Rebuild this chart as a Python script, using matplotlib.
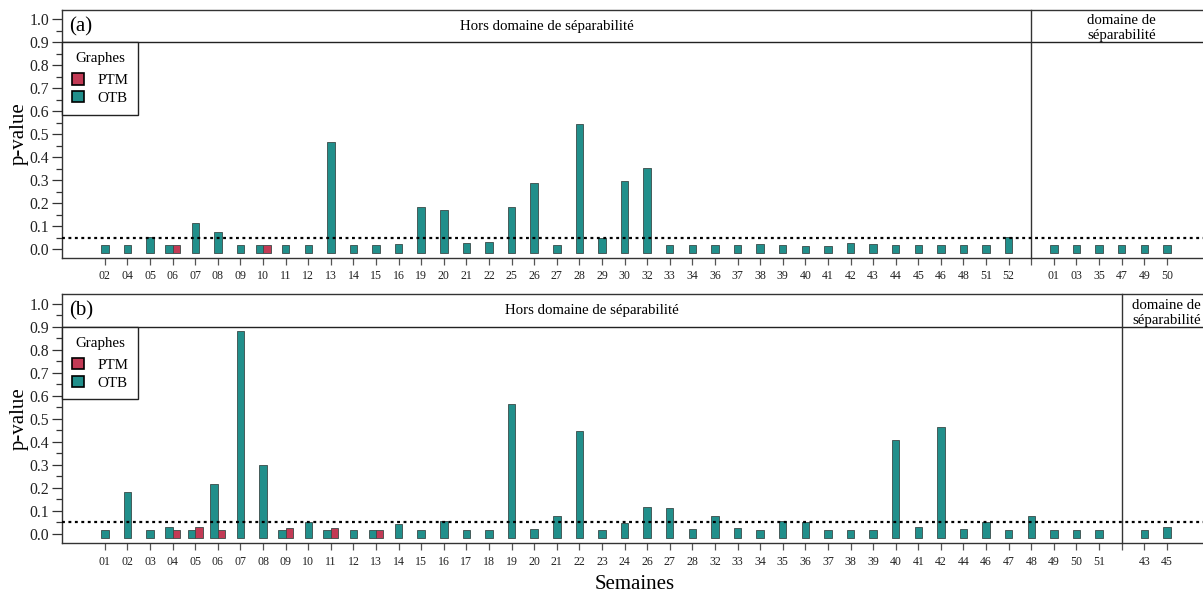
import numpy as np
import matplotlib
matplotlib.use('Agg')
import matplotlib.pyplot as plt
from matplotlib.patches import Patch

plt.rcParams['font.family'] = ['Liberation Serif', 'DejaVu Serif']

nan = np.nan

# ---- panel (a) ----
weeks_a = ['02', '04', '05', '06', '07', '08', '09', '10', '11', '12', '13', '14', '15', '16',
           '19', '20', '21', '22', '25', '26', '27', '28', '29', '30', '32', '33', '34', '36',
           '37', '38', '39', '40', '41', '42', '43', '44', '45', '46', '48', '51', '52']
otb_a = [0.017, 0.017, 0.054, 0.017, 0.113, 0.075, 0.017, 0.017, 0.017, 0.017, 0.467, 0.017,
         0.018, 0.022, 0.184, 0.171, 0.029, 0.032, 0.184, 0.287, 0.019, 0.545, 0.050, 0.297,
         0.354, 0.019, 0.019, 0.019, 0.019, 0.023, 0.019, 0.016, 0.016, 0.026, 0.023, 0.017,
         0.017, 0.017, 0.017, 0.017, 0.052]
ptm_a = [nan, nan, nan, 0.017, nan, nan, nan, 0.017] + [nan] * 33
sep_weeks_a = ['01', '03', '35', '47', '49', '50']
sep_otb_a = [0.017, 0.017, 0.017, 0.017, 0.017, 0.017]
sep_ptm_a = [nan] * 6

# ---- panel (b) ----
weeks_b = ['01', '02', '03', '04', '05', '06', '07', '08', '09', '10', '11', '12', '13', '14',
           '15', '16', '17', '18', '19', '20', '21', '22', '23', '24', '26', '27', '28', '32',
           '33', '34', '35', '36', '37', '38', '39', '40', '41', '42', '44', '46', '47', '48',
           '49', '50', '51']
otb_b = [0.016, 0.181, 0.016, 0.030, 0.016, 0.215, 0.881, 0.298, 0.017, 0.051, 0.016, 0.016,
         0.016, 0.041, 0.017, 0.054, 0.016, 0.016, 0.566, 0.020, 0.077, 0.448, 0.016, 0.048,
         0.115, 0.110, 0.020, 0.077, 0.025, 0.016, 0.054, 0.049, 0.016, 0.016, 0.016, 0.408,
         0.029, 0.464, 0.020, 0.049, 0.016, 0.077, 0.016, 0.016, 0.016]
ptm_b = [nan, nan, nan, 0.016, 0.028, 0.016, nan, nan, 0.025, nan, 0.026, nan, 0.016] + [nan] * 32
sep_weeks_b = ['43', '45']
sep_otb_b = [0.016, 0.029]
sep_ptm_b = [nan, nan]

teal = '#218f8b'
red = '#c23a55'
base = -0.017
bw = 0.33
threshold = 0.05


def draw_panel(ax, tag, weeks, otb, ptm, sweeks, sotb, sptm, ylim):
    n = len(weeks)
    div = n
    labels = list(weeks) + list(sweeks)
    xs = list(range(n)) + [n + 1 + i for i in range(len(sweeks))]
    ov = list(otb) + list(sotb)
    pv = list(ptm) + list(sptm)
    for x, o, p in zip(xs, ov, pv):
        if np.isnan(p):
            ax.bar(x, o - base, bw, bottom=base, color=teal, edgecolor='#3a4a48', linewidth=0.6)
        else:
            ax.bar(x - bw / 2, o - base, bw, bottom=base, color=teal, edgecolor='#3a4a48', linewidth=0.6)
            ax.bar(x + bw / 2, p - base, bw, bottom=base, color=red, edgecolor='#3a4a48', linewidth=0.6)

    ax.axhline(threshold, color='black', linestyle=(0, (1.3, 1.6)), linewidth=1.6, zorder=3)
    ax.axhline(0.9, color='#222222', linewidth=1.0)
    ax.axvline(div, color='#333333', linewidth=1.0, clip_on=False)

    x0, x1 = -1.9, 49.0
    ax.set_xlim(x0, x1)
    ax.set_ylim(*ylim)
    ax.set_xticks(xs + [div])
    ax.set_xticklabels(labels + [''], fontsize=8.6, color='#222222')
    ax.set_yticks(np.arange(0, 1.01, 0.1))
    ax.set_yticklabels([f'{v:.1f}' for v in np.arange(0, 1.01, 0.1)], fontsize=11.3, color='#222222')
    ax.set_yticks(np.arange(0.05, 1.0, 0.1), minor=True)
    ax.tick_params(axis='y', which='major', length=7, width=0.9, color='#333333', pad=2)
    ax.tick_params(axis='y', which='minor', length=4, width=0.9, color='#333333')
    ax.tick_params(axis='x', length=5, width=0.9, color='#555555', pad=4)
    for s in ['left', 'bottom', 'top']:
        ax.spines[s].set_linewidth(1.0)
        ax.spines[s].set_color('#333333')
    ax.spines['right'].set_visible(False)

    ax.text(-1.6, 0.968, tag, fontsize=15, va='center', ha='left')
    ax.text((x0 + div) / 2, 0.97, 'Hors domaine de séparabilité', fontsize=10.7,
            ha='center', va='center')
    ax.text((div + x1) / 2, 0.962, 'domaine de\nséparabilité', fontsize=10.7,
            ha='center', va='center', linespacing=1.2)
    ax.set_ylabel('p-value', fontsize=15)
    ax.yaxis.set_label_coords(-0.029, 0.5)

    handles = [Patch(facecolor=red, edgecolor='black', linewidth=1.2, label='PTM'),
               Patch(facecolor=teal, edgecolor='black', linewidth=1.2, label='OTB')]
    yfrac = (0.9 - ylim[0]) / (ylim[1] - ylim[0])
    leg = ax.legend(handles=handles, title='Graphes', loc='upper left',
                    bbox_to_anchor=(0, yfrac), fontsize=10.8, title_fontsize=10.8,
                    fancybox=False, edgecolor='#222222', framealpha=1,
                    handlelength=0.8, handleheight=0.8, borderpad=0.65,
                    labelspacing=0.25, handletextpad=0.9, borderaxespad=0)
    leg.get_frame().set_linewidth(1.0)
    leg._legend_box.sep = 6


fig = plt.figure(figsize=(12.03, 5.93), dpi=100)
ax_a = fig.add_axes([0.0515, 0.565, 0.956, 0.4182])
ax_b = fig.add_axes([0.0515, 0.0838, 0.956, 0.4199])

draw_panel(ax_a, '(a)', weeks_a, otb_a, ptm_a, sep_weeks_a, sep_otb_a, sep_ptm_a, (-0.038, 1.040))
draw_panel(ax_b, '(b)', weeks_b, otb_b, ptm_b, sep_weeks_b, sep_otb_b, sep_ptm_b, (-0.042, 1.042))

fig.text(0.528, 0.006, 'Semaines', fontsize=15, ha='center', va='baseline')

fig.savefig('out.png', dpi=100, facecolor='white')
